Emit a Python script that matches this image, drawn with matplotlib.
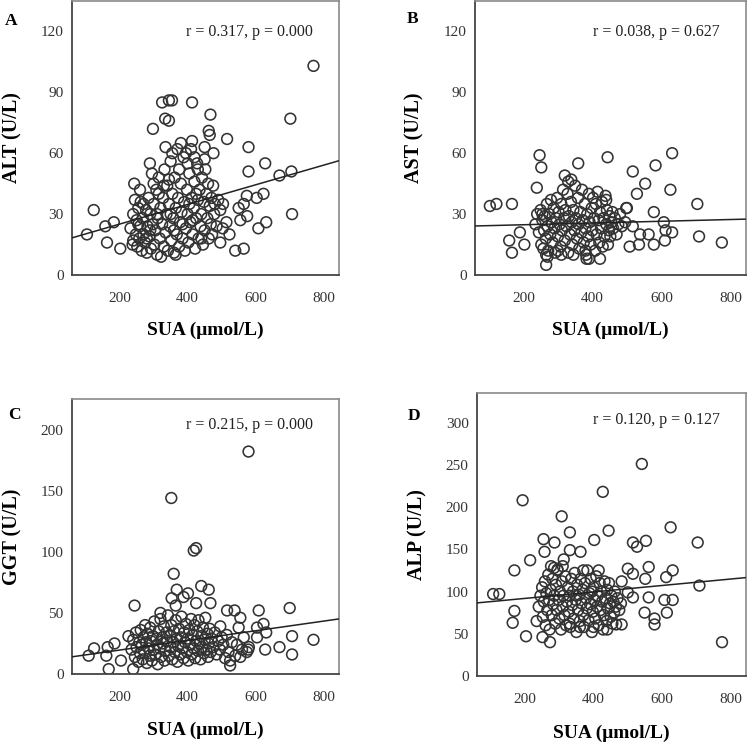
import numpy as np
import matplotlib.pyplot as plt

plt.rcParams['font.family'] = ['Liberation Serif', 'DejaVu Serif']

# SUA (umol/L) vs ALT (U/L)
alt_pts = [
    (770, 103), (702, 77), (705, 51), (707, 30), (670, 49), (628, 55), (623, 40), (631, 26),
    (608, 23), (603, 38), (579, 63), (579, 51), (574, 39), (575, 29), (565, 35), (555, 27),
    (550, 33), (565, 13), (540, 12), (516, 67), (523, 20), (514, 26), (503, 23), (504, 35),
    (496, 32), (496, 16), (462, 71), (465, 69), (467, 79), (476, 60), (450, 63), (450, 57),
    (452, 52), (413, 85), (413, 66), (334, 77), (325, 85), (345, 86), (354, 86), (345, 76),
    (298, 72), (289, 55), (243, 45), (124, 32), (104, 20), (158, 24), (183, 26), (163, 16),
    (202, 13),
    (232, 23), (238, 15), (240, 30), (245, 37), (248, 20), (250, 27), (252, 14), (255, 33),
    (258, 18), (260, 24), (262, 36), (265, 12), (268, 28), (270, 20), (275, 16), (278, 32),
    (280, 11), (282, 24), (285, 38), (288, 19), (290, 30), (292, 13), (295, 50), (298, 25),
    (300, 35), (302, 15), (305, 22), (308, 42), (310, 10), (312, 28), (315, 48), (318, 18),
    (320, 33), (322, 9), (325, 25), (328, 38), (330, 14), (332, 52), (335, 21), (338, 30),
    (340, 44), (342, 12), (345, 35), (348, 24), (350, 56), (352, 17), (355, 40), (358, 28),
    (360, 11), (362, 48), (365, 33), (368, 20), (370, 62), (372, 38), (375, 14), (378, 26),
    (380, 45), (382, 31), (385, 18), (388, 58), (390, 36), (392, 12), (395, 23), (398, 42),
    (400, 30), (402, 16), (405, 50), (408, 26), (410, 62), (412, 38), (415, 20), (418, 33),
    (420, 46), (422, 13), (425, 28), (428, 55), (430, 37), (432, 18), (435, 42), (438, 24),
    (440, 30), (442, 48), (445, 15), (448, 36), (450, 22), (455, 40), (458, 28), (460, 45),
    (462, 18), (465, 34), (468, 25), (470, 38), (472, 20), (475, 44), (478, 30), (480, 35),
    (485, 24), (490, 37), (335, 63), (355, 60), (380, 65), (395, 60), (420, 58), (430, 52),
    (315, 40), (290, 22), (270, 35), (260, 42), (300, 45), (350, 30), (375, 52), (405, 35),
    (425, 40), (440, 18), (365, 10), (280, 18), (310, 30), (330, 44), (345, 47), (360, 22),
    (385, 25), (400, 55), (415, 27), (255, 25), (240, 17),
]

# SUA vs AST (U/L)
ast_pts = [
    (103, 34), (122, 35), (167, 35), (159, 17), (167, 11), (190, 21), (203, 15), (239, 43),
    (247, 59), (252, 53), (359, 55), (444, 58), (631, 60), (583, 54), (517, 51), (553, 45),
    (529, 40), (626, 42), (704, 35), (709, 19), (775, 16), (578, 31), (607, 26), (612, 22),
    (631, 21), (610, 17), (578, 15), (563, 20), (538, 20), (517, 24), (535, 15), (508, 14),
    (498, 33), (266, 5), (266, 10), (320, 49), (339, 47), (422, 8), (383, 8),
    (235, 25), (240, 30), (245, 21), (250, 32), (252, 15), (255, 27), (258, 13), (260, 22),
    (262, 29), (265, 18), (268, 35), (270, 24), (272, 12), (275, 30), (278, 20), (280, 37),
    (282, 26), (285, 16), (288, 33), (290, 23), (292, 11), (295, 28), (298, 38), (300, 19),
    (302, 31), (305, 25), (308, 14), (310, 35), (312, 22), (315, 42), (318, 28), (320, 17),
    (322, 32), (325, 24), (328, 40), (330, 11), (332, 29), (335, 20), (338, 36), (340, 26),
    (342, 15), (345, 32), (348, 22), (350, 44), (352, 28), (355, 18), (358, 38), (360, 25),
    (362, 13), (365, 31), (368, 21), (370, 42), (372, 27), (375, 16), (378, 35), (380, 23),
    (382, 10), (385, 30), (388, 19), (390, 40), (392, 26), (395, 15), (398, 33), (400, 22),
    (402, 38), (405, 28), (408, 12), (410, 35), (412, 20), (415, 41), (418, 27), (420, 16),
    (422, 31), (425, 23), (428, 36), (430, 14), (432, 28), (435, 19), (438, 39), (440, 25),
    (442, 32), (445, 15), (448, 22), (450, 29), (452, 19), (455, 26), (458, 31), (460, 23),
    (465, 28), (470, 20), (475, 25), (480, 30), (485, 24), (495, 26), (500, 33), (255, 30),
    (300, 12), (345, 10), (390, 8), (270, 9), (310, 10), (380, 12), (440, 37), (330, 46),
]

# SUA vs GGT (U/L)
ggt_pts = [
    (579, 182), (352, 144), (418, 101), (425, 103), (359, 82), (368, 69), (401, 66), (388, 63),
    (440, 72), (462, 69), (467, 58), (425, 58), (353, 62), (365, 56), (244, 56), (320, 50),
    (516, 52), (538, 52), (555, 46), (550, 38), (609, 52), (700, 54), (707, 31), (707, 16),
    (770, 28), (670, 22), (628, 20), (631, 34), (623, 41), (604, 38), (604, 30), (574, 18),
    (580, 22), (555, 14), (578, 20), (545, 24), (525, 7), (525, 11), (496, 39), (109, 15),
    (125, 21), (161, 15), (168, 4), (165, 22), (185, 25), (204, 11), (240, 4), (226, 31),
    (235, 20), (240, 28), (245, 14), (248, 34), (250, 22), (255, 10), (258, 26), (260, 17),
    (262, 36), (265, 24), (268, 12), (270, 30), (272, 19), (275, 40), (278, 26), (280, 9),
    (282, 33), (285, 21), (288, 15), (290, 38), (292, 27), (295, 11), (298, 31), (300, 20),
    (302, 43), (305, 16), (308, 29), (310, 24), (312, 8), (315, 35), (318, 21), (320, 45),
    (322, 14), (325, 30), (328, 25), (330, 39), (332, 11), (335, 19), (338, 34), (340, 27),
    (342, 48), (345, 15), (348, 31), (350, 22), (352, 40), (355, 12), (358, 26), (360, 35),
    (362, 18), (365, 44), (368, 29), (370, 10), (372, 23), (375, 37), (378, 16), (380, 30),
    (382, 47), (385, 21), (388, 13), (390, 34), (392, 26), (395, 41), (398, 18), (400, 29),
    (402, 11), (405, 36), (408, 24), (410, 45), (412, 16), (415, 32), (418, 21), (420, 40),
    (422, 13), (425, 27), (428, 35), (430, 19), (432, 44), (435, 25), (438, 12), (440, 31),
    (442, 22), (445, 38), (448, 17), (450, 28), (452, 46), (455, 20), (458, 33), (460, 14),
    (462, 25), (465, 37), (468, 18), (470, 29), (475, 22), (480, 34), (485, 16), (490, 27),
    (495, 20), (500, 30), (505, 24), (510, 13), (515, 32), (520, 18), (530, 26), (540, 15),
    (560, 20), (565, 30),
]

# SUA vs ALP (U/L)
alp_pts = [
    (541, 251), (427, 218), (193, 208), (307, 189), (331, 170), (444, 172), (625, 176),
    (704, 158), (709, 107), (775, 40), (402, 161), (286, 158), (254, 162), (257, 147),
    (215, 137), (169, 125), (107, 97), (125, 97), (169, 77), (164, 63), (203, 47), (251, 46),
    (273, 40), (234, 65), (313, 138), (331, 149), (362, 147), (276, 130), (295, 126),
    (515, 158), (527, 153), (553, 160), (561, 129), (551, 115), (561, 93), (500, 127),
    (515, 121), (515, 93), (500, 99), (482, 112), (607, 90), (631, 90), (612, 117), (631, 125),
    (614, 75), (549, 75), (578, 68), (578, 61), (482, 61), (466, 61),
    (240, 82), (245, 95), (250, 105), (252, 70), (255, 88), (258, 112), (260, 60), (262, 98),
    (265, 78), (268, 120), (270, 90), (272, 55), (275, 102), (278, 72), (280, 115), (282, 85),
    (285, 95), (288, 62), (290, 108), (292, 78), (295, 125), (298, 90), (300, 68), (302, 100),
    (305, 55), (308, 112), (310, 82), (312, 95), (315, 72), (318, 118), (320, 60), (322, 88),
    (325, 105), (328, 76), (330, 95), (332, 58), (335, 115), (338, 84), (340, 100), (342, 68),
    (345, 122), (348, 90), (350, 52), (352, 108), (355, 78), (358, 96), (360, 65), (362, 115),
    (365, 86), (368, 102), (370, 72), (372, 58), (375, 110), (378, 92), (380, 80), (382, 125),
    (385, 66), (388, 98), (390, 85), (392, 115), (395, 52), (398, 76), (400, 105), (402, 90),
    (405, 68), (408, 118), (410, 82), (412, 95), (415, 60), (418, 110), (420, 78), (422, 100),
    (425, 88), (428, 55), (430, 72), (432, 112), (435, 92), (438, 65), (440, 102), (442, 80),
    (445, 110), (448, 86), (450, 70), (452, 95), (455, 62), (458, 88), (460, 75), (462, 100),
    (465, 82), (470, 92), (475, 78), (480, 86), (285, 128), (310, 130), (330, 62), (360, 58),
    (400, 58), (440, 55), (370, 125), (415, 125), (350, 95), (395, 100),
]

# fitted lines: (intercept, slope)
fits = [(15.4, 0.0484), (23.9, 0.0043), (11.7, 0.0395), (84.2, 0.0382)]
stats = ['r = 0.317, p = 0.000', 'r = 0.038, p = 0.627',
         'r = 0.215, p = 0.000', 'r = 0.120, p = 0.127']
ylabels = ['ALT (U/L)', 'AST (U/L)', 'GGT (U/L)', 'ALP (U/L)']
letters = ['A', 'B', 'C', 'D']
yticks = [[0, 30, 60, 90, 120], [0, 30, 60, 90, 120],
          [0, 50, 100, 150, 200], [0, 50, 100, 150, 200, 250, 300]]
ylims = [135, 135, 225, 335]
all_pts = [alt_pts, ast_pts, ggt_pts, alp_pts]

rects = [[0.0961, 0.6328, 0.3565, 0.3660],
         [0.6342, 0.6328, 0.3618, 0.3660],
         [0.0961, 0.1001, 0.3565, 0.3672],
         [0.6369, 0.0975, 0.3591, 0.3778]]
letter_pos = [(11, 21), (413, 19), (14, 415), (414, 416)]

fig = plt.figure(figsize=(7.49, 7.49), dpi=100)

for i in range(4):
    ax = fig.add_axes(rects[i])
    pts = np.array(all_pts[i], dtype=float)
    ax.scatter(pts[:, 0], pts[:, 1], s=60, facecolors='none', edgecolors='#333333',
               linewidths=1.15, zorder=2)
    xl = np.array([60, 845])
    b0, b1 = fits[i]
    ax.plot(xl, b0 + b1 * xl, color='#222222', lw=1.1, zorder=3)
    ax.set_xlim(60, 845)
    ax.set_ylim(0, ylims[i])
    ax.set_xticks([200, 400, 600, 800])
    ax.set_yticks(yticks[i])
    ax.tick_params(length=0, labelsize=11, labelcolor='#333333')
    ax.tick_params(axis='x', pad=12)
    ax.tick_params(axis='y', pad=6)
    for s in ['left', 'bottom']:
        ax.spines[s].set_color('#444444')
        ax.spines[s].set_linewidth(1.3)
    for s in ['top', 'right']:
        ax.spines[s].set_color('#8a8a8a')
        ax.spines[s].set_linewidth(1.2)
    ax.set_xlabel('SUA (μmol/L)', fontsize=14, fontweight='bold')
    ax.set_ylabel(ylabels[i], fontsize=14.5, fontweight='bold')
    ax.xaxis.set_label_coords(0.5, -0.172)
    ax.yaxis.set_label_coords(-0.185, 0.5)
    ax.text(0.903, 0.885 if i < 2 else 0.905, stats[i], transform=ax.transAxes,
            ha='right', va='center', fontsize=11.5, color='#222222')
    lx, ly = letter_pos[i]
    fig.text(lx / 749, 1 - ly / 749, letters[i], fontsize=12.5, fontweight='bold',
             ha='center', va='center')

fig.savefig('out.png', dpi=100)
